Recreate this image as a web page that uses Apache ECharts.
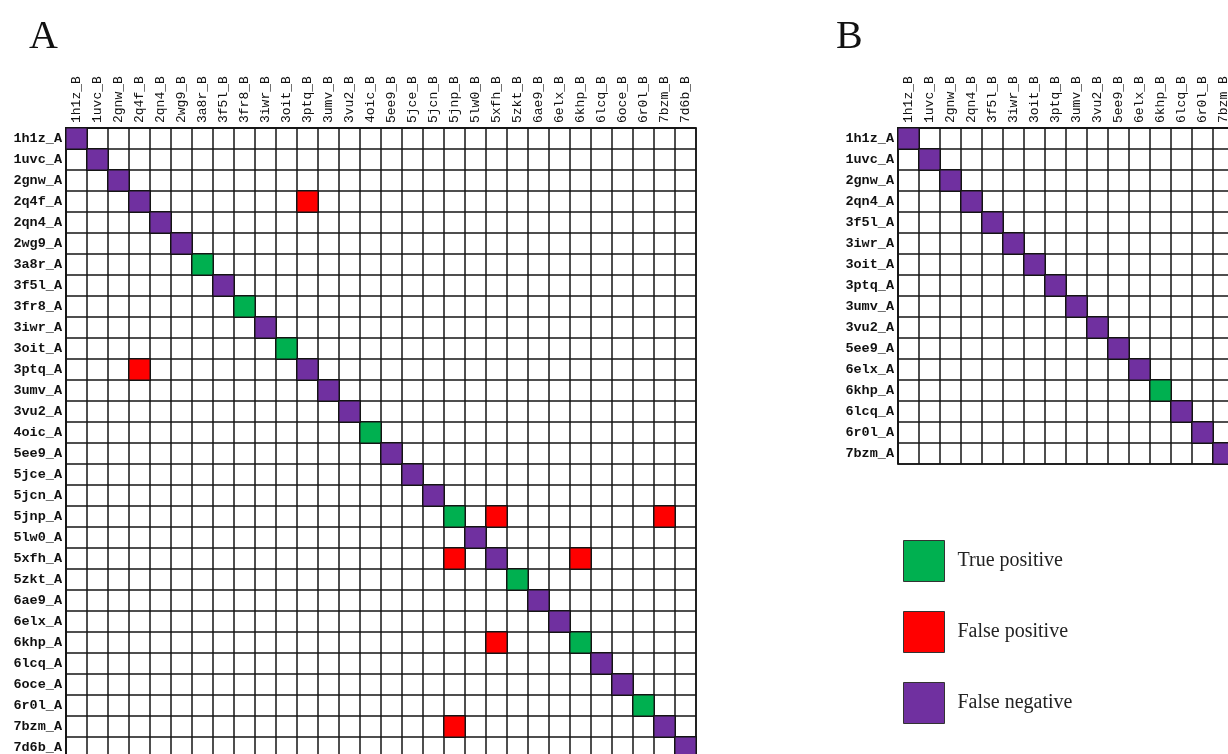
<!DOCTYPE html>
<html>
<head>
<meta charset="utf-8">
<script src="https://cdn.jsdelivr.net/npm/echarts@6/dist/echarts.min.js"></script>
<style>
  html, body { margin: 0; padding: 0; background: #fff; }
  #chart { width: 1228px; height: 754px; }
</style>
</head>
<body>
<div id="chart"></div>
<script>
// structures compared in panel A (rows *_A, columns *_B)
const idsA = ['1h1z', '1uvc', '2gnw', '2q4f', '2qn4', '2wg9', '3a8r', '3f5l', '3fr8', '3iwr',
    '3oit', '3ptq', '3umv', '3vu2', '4oic', '5ee9', '5jce', '5jcn', '5jnp', '5lw0',
    '5xfh', '5zkt', '6ae9', '6elx', '6khp', '6lcq', '6oce', '6r0l', '7bzm', '7d6b'];
// diagonal cells that are true positives, the rest of the diagonal are false negatives
const tpA = ['3a8r', '3fr8', '3oit', '4oic', '5jnp', '5zkt', '6khp', '6r0l'];
// off-diagonal false positives: [row (A), column (B)]
const fpA = [
    ['2q4f', '3ptq'], ['3ptq', '2q4f'],
    ['5jnp', '5xfh'], ['5jnp', '7bzm'],
    ['5xfh', '5jnp'], ['5xfh', '6khp'],
    ['6khp', '5xfh'], ['7bzm', '5jnp']
];

// panel B
const idsB = ['1h1z', '1uvc', '2gnw', '2qn4', '3f5l', '3iwr', '3oit', '3ptq',
    '3umv', '3vu2', '5ee9', '6elx', '6khp', '6lcq', '6r0l', '7bzm'];
const tpB = ['6khp'];
const fpB = [];

const COLORS = { tp: '#00B050', fp: '#FF0000', fn: '#7030A0' };

function cells(ids, tp, fp) {
    const out = { tp: [], fp: [], fn: [] };
    ids.forEach((id, i) => {
        (tp.includes(id) ? out.tp : out.fn).push([i, i, 1]);
    });
    fp.forEach(([r, c]) => out.fp.push([ids.indexOf(c), ids.indexOf(r), 1]));
    return out;
}

const cellsA = cells(idsA, tpA, fpA);
const cellsB = cells(idsB, tpB, fpB);

const CELL = 21;
const LINE = { color: '#141414', width: 1.5 };
const gridA = { left: 66, top: 128, n: idsA.length };
const gridB = { left: 898, top: 128, n: idsB.length };

function grid(g) {
    return {
        left: g.left, top: g.top, width: CELL * g.n, height: CELL * g.n,
        show: true, backgroundColor: '#fff', borderColor: LINE.color, borderWidth: LINE.width,
        outerBoundsMode: 'none', containLabel: false
    };
}

function xAxis(ids, idx) {
    return {
        type: 'category', gridIndex: idx, position: 'top',
        data: ids.map(d => d + '_B'),
        axisLine: { show: true, lineStyle: LINE },
        axisTick: { show: false },
        splitLine: { show: true, interval: 0, lineStyle: LINE },
        axisLabel: {
            interval: 0, rotate: -90, margin: 5,
            fontFamily: 'Liberation Mono', fontSize: 13, color: '#111'
        }
    };
}

function yAxis(ids, idx) {
    return {
        type: 'category', gridIndex: idx, inverse: true,
        data: ids.map(d => d + '_A'),
        axisLine: { show: true, lineStyle: LINE },
        axisTick: { show: false },
        splitLine: { show: true, interval: 0, lineStyle: LINE },
        axisLabel: {
            interval: 0, margin: 4,
            fontFamily: 'Liberation Mono', fontSize: 13.5, fontWeight: 'bold', color: '#111'
        }
    };
}

const NAMES = { tp: 'True positive', fp: 'False positive', fn: 'False negative' };

function series(c, idx) {
    return ['tp', 'fp', 'fn'].map(k => ({
        type: 'heatmap', name: NAMES[k],
        xAxisIndex: idx, yAxisIndex: idx,
        data: c[k],
        itemStyle: { color: COLORS[k], borderColor: LINE.color, borderWidth: LINE.width },
        emphasis: { disabled: true },
        silent: true
    }));
}

const chart = echarts.init(document.getElementById('chart'));
chart.setOption({
    animation: false,
    title: [
        { text: 'A', left: 24, top: 12, textStyle: { fontFamily: 'Liberation Serif', fontSize: 40, fontWeight: 'normal', color: '#111' } },
        { text: 'B', left: 831, top: 12, textStyle: { fontFamily: 'Liberation Serif', fontSize: 40, fontWeight: 'normal', color: '#111' } }
    ],
    legend: {
        data: [NAMES.tp, NAMES.fp, NAMES.fn],
        orient: 'vertical', left: 903, top: 540, padding: 0,
        icon: 'rect', itemWidth: 41, itemHeight: 41, itemGap: 29,
        itemStyle: { borderColor: '#333', borderWidth: 1 },
        selectedMode: false,
        textStyle: { fontFamily: 'Liberation Serif', fontSize: 20, color: '#222', padding: [0, 0, 0, 8] }
    },
    grid: [grid(gridA), grid(gridB)],
    xAxis: [xAxis(idsA, 0), xAxis(idsB, 1)],
    yAxis: [yAxis(idsA, 0), yAxis(idsB, 1)],
    series: [...series(cellsA, 0), ...series(cellsB, 1)]
});
</script>
</body>
</html>
